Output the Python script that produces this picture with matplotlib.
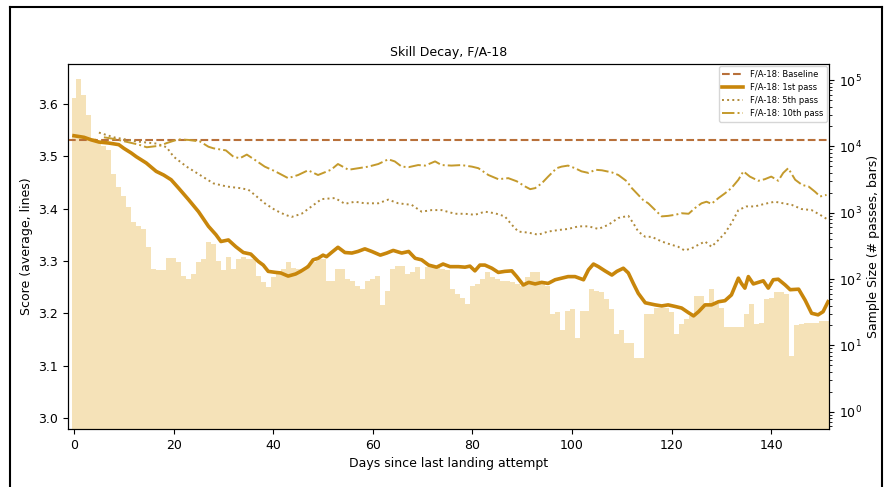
import matplotlib
matplotlib.use("Agg")
import matplotlib.pyplot as plt
from matplotlib.lines import Line2D

# sample size per day (bars, right log axis)
days = list(range(152))
sample_size = [
    54000, 105000, 60000, 29500, 13200, 11200, 10000, 8700, 3900, 2450,
    1800, 1230, 720, 630, 575, 300, 141, 135, 135, 209,
    209, 182, 112, 100, 120, 182, 200, 363, 339, 190,
    135, 214, 141, 200, 214, 200, 200, 112, 90, 76,
    107, 126, 141, 182, 148, 141, 141, 162, 182, 200,
    200, 93, 93, 141, 141, 100, 93, 79, 71, 93,
    100, 112, 40, 66, 141, 158, 158, 120, 126, 151,
    100, 151, 151, 151, 141, 135, 71, 59, 52, 42,
    79, 83, 100, 126, 107, 100, 93, 93, 89, 83,
    79, 107, 126, 126, 93, 79, 30, 32, 17, 33,
    35, 13, 33, 33, 71, 66, 63, 50, 35, 15,
    17, 11, 11, 6.5, 6.5, 30, 30, 37, 37, 37,
    32, 15, 21, 25, 28, 56, 56, 40, 71, 42,
    37, 19, 19, 19, 19, 30, 42, 21, 22, 50,
    52, 63, 63, 59, 7, 20, 21, 22, 22, 22,
    23, 23,
]

baseline = 3.531

first_days = [0, 2, 3.5, 5, 7, 9, 10, 11.5, 12.5, 14.5, 16.5, 18, 19.5, 21, 23, 25, 27,
              28.5, 29.5, 31, 32.5, 34, 35.5, 37, 38, 39, 40.5, 41.5, 43, 44.5, 45.5,
              47, 48, 49, 50, 50.7, 51.7, 53, 54.4, 55.8, 57, 58.4, 59.8, 61.5, 62.8,
              64.1, 65.8, 67.2, 68.5, 69.8, 71.2, 72.8, 74.1, 75.5, 77.2, 78.5, 79.5,
              80.5, 81.5, 82.5, 83.9, 85.2, 86.5, 87.9, 88.9, 90.2, 91.3, 92.6, 93.9,
              95.2, 96.6, 97.9, 99.2, 100.6, 102.3, 103.3, 104.3, 105.3, 106.6, 108,
              109, 110.3, 111.3, 112.3, 113.3, 114.7, 116.7, 118, 119.3, 120.7, 122,
              123.4, 124.4, 125.4, 126.7, 128, 129.4, 130.7, 132, 132.7, 133.4, 134,
              134.7, 135.4, 136.4, 137.4, 138.4, 139.4, 140.4, 141.4, 142.8, 143.8,
              145.5, 146.8, 148.1, 149.4, 150.4, 151.4]
first_pass = [3.539, 3.536, 3.531, 3.527, 3.525, 3.522, 3.515, 3.506, 3.499, 3.487,
              3.471, 3.464, 3.455, 3.439, 3.417, 3.394, 3.366, 3.350, 3.337, 3.340,
              3.327, 3.316, 3.313, 3.299, 3.292, 3.280, 3.278, 3.277, 3.271, 3.275,
              3.280, 3.289, 3.302, 3.305, 3.311, 3.308, 3.316, 3.326, 3.316, 3.315,
              3.318, 3.323, 3.318, 3.311, 3.315, 3.320, 3.315, 3.318, 3.305, 3.302,
              3.292, 3.288, 3.294, 3.289, 3.289, 3.288, 3.290, 3.281, 3.292, 3.292,
              3.286, 3.278, 3.280, 3.281, 3.270, 3.254, 3.259, 3.256, 3.259, 3.257,
              3.264, 3.267, 3.270, 3.270, 3.264, 3.283, 3.294, 3.289, 3.281, 3.273,
              3.280, 3.286, 3.277, 3.257, 3.238, 3.220, 3.216, 3.214, 3.216, 3.213,
              3.210, 3.201, 3.195, 3.203, 3.216, 3.216, 3.222, 3.224, 3.235, 3.251,
              3.267, 3.257, 3.248, 3.270, 3.256, 3.259, 3.262, 3.248, 3.264, 3.265,
              3.254, 3.245, 3.246, 3.225, 3.200, 3.197, 3.203, 3.222]

fifth_days = [5, 8, 12.6, 16.6, 18.6, 20, 22.6, 25.3, 28, 30.7, 33.3, 35, 36.3, 38.3,
              40.4, 42.4, 43.7, 45.7, 47.7, 49.7, 52.4, 54.4, 56.4, 58.4, 61.1, 63.1,
              65.1, 67.8, 69.8, 71.8, 73.8, 76.5, 78.5, 80.5, 82.5, 84.5, 86.5, 87.9,
              89.2, 91.2, 93.2, 95.2, 97.3, 99.2, 101.3, 103.3, 105.3, 107.3, 109.3,
              111.3, 112.3, 113.3, 114.7, 116, 118, 119.9, 121.3, 122.6, 124, 125.4,
              126.7, 128, 129.4, 130.7, 132, 133.4, 135, 136.7, 138.7, 140.7, 142.4,
              144.1, 146.1, 148.1, 149.8, 151.5]
fifth_pass = [3.545, 3.536, 3.528, 3.524, 3.517, 3.499, 3.480, 3.464, 3.448, 3.442,
              3.439, 3.436, 3.426, 3.410, 3.397, 3.388, 3.384, 3.390, 3.404, 3.418,
              3.420, 3.409, 3.413, 3.410, 3.410, 3.417, 3.410, 3.407, 3.394, 3.397,
              3.397, 3.390, 3.390, 3.388, 3.394, 3.391, 3.385, 3.369, 3.356, 3.354,
              3.350, 3.356, 3.359, 3.361, 3.366, 3.366, 3.361, 3.369, 3.382, 3.386,
              3.372, 3.356, 3.346, 3.346, 3.337, 3.331, 3.327, 3.320, 3.324, 3.331,
              3.337, 3.327, 3.340, 3.353, 3.372, 3.397, 3.404, 3.404, 3.409, 3.413,
              3.410, 3.407, 3.399, 3.397, 3.388, 3.378]

tenth_days = [6, 8, 13, 14.6, 17.3, 18.6, 20.9, 23, 25.3, 27, 28, 30.5, 32, 33.3, 34.7,
              36.3, 38.3, 40.4, 43, 45, 47, 49, 51.6, 53, 55.1, 57.1, 59.1, 61.1, 63.1,
              64.4, 65.8, 67.2, 69.1, 70.5, 72.5, 73.8, 75.8, 77.8, 79.9, 81.2, 83.2,
              85.2, 87.2, 88.9, 90.6, 91.6, 92.6, 93.9, 95.2, 96.9, 97.9, 99.2, 100.6,
              101.9, 103.3, 104.7, 106, 108, 109.3, 111, 112, 113, 114.3, 115.3, 116.7,
              118, 119.3, 120.7, 122, 123.4, 124.7, 126, 127, 128, 129.4, 130.7, 132,
              133.4, 134.4, 135.7, 137.4, 138.7, 140, 141.4, 142.4, 143.4, 144.8,
              146.2, 147.5, 148.8, 149.8, 151.1]
tenth_pass = [3.536, 3.533, 3.522, 3.517, 3.520, 3.525, 3.532, 3.531, 3.528, 3.518,
              3.515, 3.511, 3.499, 3.496, 3.503, 3.493, 3.480, 3.471, 3.458, 3.464,
              3.473, 3.464, 3.474, 3.485, 3.474, 3.477, 3.480, 3.485, 3.494, 3.490,
              3.480, 3.479, 3.483, 3.482, 3.490, 3.483, 3.482, 3.483, 3.480, 3.477,
              3.464, 3.456, 3.458, 3.452, 3.442, 3.437, 3.439, 3.448, 3.461, 3.477,
              3.480, 3.482, 3.477, 3.471, 3.468, 3.474, 3.473, 3.469, 3.464, 3.452,
              3.439, 3.429, 3.416, 3.410, 3.397, 3.385, 3.386, 3.388, 3.391, 3.390,
              3.401, 3.410, 3.413, 3.409, 3.420, 3.429, 3.439, 3.455, 3.471, 3.461,
              3.453, 3.456, 3.461, 3.453, 3.468, 3.477, 3.455, 3.445, 3.442, 3.432,
              3.423, 3.426]

fig = plt.figure(figsize=(8.88, 4.87), dpi=100)
ax = fig.add_axes([0.0766, 0.1191, 0.857, 0.7495])
ax2 = ax.twinx()

ax2.bar(days, sample_size, width=1.0, bottom=0.01, color="#f5e2b8", linewidth=0)
ax2.set_yscale("log")
ax2.set_ylim(0.55, 1.75e5)
ax2.set_ylabel("Sample Size (# passes, bars)", fontsize=9)
ax2.tick_params(labelsize=9)

ax.set_zorder(ax2.get_zorder() + 1)
ax.patch.set_visible(False)

ax.axhline(baseline, color="#b8703a", linestyle="--", linewidth=1.5,
           label="F/A-18: Baseline")
ax.plot(first_days, first_pass, color="#c8860b", linewidth=2.6,
        label="F/A-18: 1st pass")
ax.plot(fifth_days, fifth_pass, color="#b08a3a", linestyle=":", linewidth=1.4,
        label="F/A-18: 5th pass")
ax.plot(tenth_days, tenth_pass, color="#c49a2c", linestyle="-.", linewidth=1.4,
        label="F/A-18: 10th pass")

ax.set_xlim(-1.2, 151.6)
ax.set_ylim(2.979, 3.676)
ax.set_xticks(range(0, 150, 20))
ax.set_yticks([3.0, 3.1, 3.2, 3.3, 3.4, 3.5, 3.6])
ax.tick_params(labelsize=9)
ax.set_xlabel("Days since last landing attempt", fontsize=9)
ax.set_ylabel("Score (average, lines)", fontsize=9)
ax.set_title("Skill Decay, F/A-18", fontsize=9)
ax.legend(loc="upper right", fontsize=6, handlelength=2.5, borderaxespad=0.3)

# screenshot frame
fx0, fx1, fy1 = 10 / 888, 882 / 888, 1 - 7 / 487
for xs, ys in [([fx0, fx0], [0, fy1]), ([fx0, fx1], [fy1, fy1]), ([fx1, fx1], [0, fy1])]:
    fig.add_artist(Line2D(xs, ys, color="black", linewidth=1.5))

fig.savefig("out.png", dpi=100)
